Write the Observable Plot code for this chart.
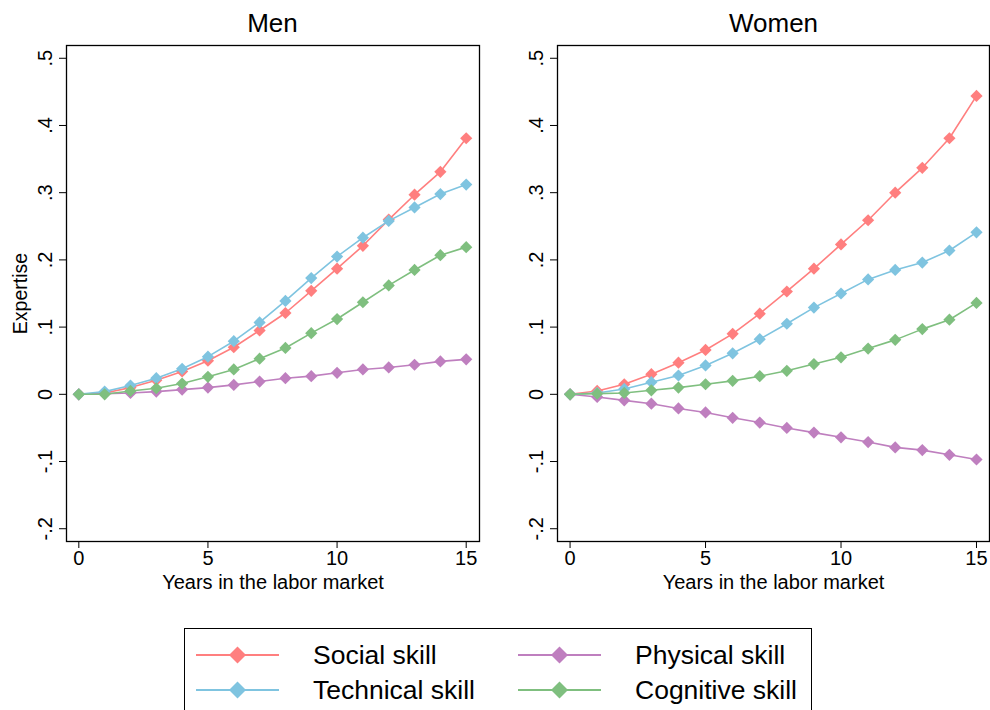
<!DOCTYPE html>
<html><head><meta charset="utf-8">
<script src="https://cdn.jsdelivr.net/npm/d3@7"></script>
<script src="https://cdn.jsdelivr.net/npm/@observablehq/plot@0.6"></script>
<style>
body{margin:0;background:#fff;font-family:"Liberation Sans",Arial,sans-serif;}
#wrap{position:relative;width:990px;height:710px;overflow:hidden;background:#fff;}
.panel{position:absolute;top:0;}
.title{position:absolute;top:8px;font-size:26px;line-height:30px;text-align:center;color:#000;}
#legend{position:absolute;left:184px;top:628px;width:628px;height:100px;border:1.3px solid #000;box-sizing:border-box;background:#fff;}
.item{position:absolute;height:30px;}
.item svg{position:absolute;left:0;top:0;}
.item span{position:absolute;white-space:nowrap;font-size:26.5px;line-height:30px;color:#000;}
</style></head><body>
<div id="wrap">
  <div id="p1" class="panel" style="left:0px"></div>
  <div id="p2" class="panel" style="left:490px"></div>
  <div class="title" style="left:66px;width:413px">Men</div>
  <div class="title" style="left:557px;width:433px">Women</div>
  <div id="legend"></div>
</div>
<script>
const years = [0,1,2,3,4,5,6,7,8,9,10,11,12,13,14,15];
const seriesNames = ["Social skill","Physical skill","Technical skill","Cognitive skill"];
const seriesColors = ["#FF7F7F","#BF7FBF","#7FC4E0","#7FBF7F"];
const xTicks = [0,5,10,15];
const yTicks = [-0.2,-0.1,0,0.1,0.2,0.3,0.4,0.5];
const panelTitles = ["Men","Women"];
const xLabel = "Years in the labor market";
const yLabel = "Expertise";

const menSocial    = [0,0.002,0.010,0.021,0.034,0.050,0.070,0.095,0.121,0.154,0.187,0.221,0.260,0.297,0.331,0.381];
const menTechnical = [0,0.004,0.013,0.024,0.038,0.056,0.079,0.107,0.139,0.173,0.205,0.233,0.258,0.278,0.298,0.312];
const menPhysical  = [0,0.001,0.002,0.004,0.007,0.010,0.014,0.019,0.024,0.027,0.032,0.037,0.040,0.044,0.049,0.052];
const menCognitive = [0,0.000,0.005,0.009,0.016,0.026,0.037,0.053,0.069,0.091,0.112,0.137,0.162,0.185,0.207,0.219];

const womenSocial    = [0,0.005,0.015,0.030,0.047,0.066,0.090,0.120,0.153,0.187,0.223,0.259,0.300,0.337,0.381,0.444];
const womenTechnical = [0,0.002,0.008,0.018,0.028,0.043,0.061,0.082,0.105,0.129,0.150,0.171,0.185,0.196,0.214,0.241];
const womenPhysical  = [0,-0.004,-0.009,-0.014,-0.021,-0.027,-0.035,-0.042,-0.050,-0.057,-0.064,-0.071,-0.079,-0.083,-0.090,-0.097];
const womenCognitive = [0,0.001,0.002,0.006,0.010,0.015,0.020,0.027,0.035,0.045,0.055,0.068,0.081,0.097,0.111,0.136];

const menSeries = [menSocial, menPhysical, menTechnical, menCognitive];
const womenSeries = [womenSocial, womenPhysical, womenTechnical, womenCognitive];

const fmtY = v => v === 0 ? "0" : d3.format(".1f")(v).replace("0.", ".").replace("−", "-");

function panel(seriesList, opts) {
  const marks = [];
  seriesList.forEach((vals, i) => {
    const data = years.map((yr, j) => ({x: yr, y: vals[j]}));
    marks.push(Plot.line(data, {x: "x", y: "y", stroke: seriesColors[i], strokeWidth: 1.6}));
    marks.push(Plot.dot(data, {x: "x", y: "y", symbol: "diamond2", r: 5.5, fill: seriesColors[i], stroke: "none"}));
  });
  marks.push(Plot.axisX({ticks: xTicks, tickSize: 7, tickFormat: () => "", label: null}));
  marks.push(Plot.axisY({ticks: yTicks, tickSize: 7, tickFormat: () => "", label: null}));
  marks.push(Plot.text(xTicks, {x: d => d, frameAnchor: "bottom", dy: 17, lineAnchor: "middle", textAnchor: "middle", text: d => String(d), fontSize: 20}));
  marks.push(Plot.text(yTicks, {y: d => d, frameAnchor: "left", dx: -21, rotate: -90, lineAnchor: "middle", textAnchor: "middle", text: fmtY, fontSize: 20}));
  marks.push(Plot.text([xLabel], {frameAnchor: "bottom", dy: 41, lineAnchor: "middle", textAnchor: "middle", text: d => d, fontSize: 20}));
  if (opts.yLabel) marks.push(Plot.text([yLabel], {frameAnchor: "left", dx: -46, rotate: -90, lineAnchor: "middle", textAnchor: "middle", text: d => d, fontSize: 19.5}));
  marks.push(Plot.frame({stroke: "black", strokeWidth: 1.3}));
  return Plot.plot({
    width: opts.width, height: 600,
    marginLeft: opts.marginLeft, marginRight: opts.marginRight, marginTop: 45, marginBottom: 59,
    x: {domain: opts.xDomain},
    y: {domain: [-0.219, 0.519]},
    style: {fontFamily: "Liberation Sans, Arial, sans-serif", fontSize: "20px", color: "black", background: "white", overflow: "visible"},
    marks
  });
}

document.getElementById("p1").appendChild(panel(menSeries, {width: 495, marginLeft: 66, marginRight: 16, xDomain: [-0.477, 15.515], yLabel: true}));
document.getElementById("p2").appendChild(panel(womenSeries, {width: 500, marginLeft: 67, marginRight: 1, xDomain: [-0.464, 15.48], yLabel: false}));

// legend
const legend = document.getElementById("legend");
const legendPos = [
  {left: 11, top: 11}, {left: 333, top: 11},
  {left: 11, top: 46}, {left: 333, top: 46}
];
seriesNames.forEach((name, i) => {
  const it = document.createElement("div");
  it.className = "item";
  it.style.left = legendPos[i].left + "px";
  it.style.top = legendPos[i].top + "px";
  it.style.width = "300px";
  const c = seriesColors[i];
  it.innerHTML = `<svg width="90" height="30"><line x1="0" y1="15" x2="83" y2="15" stroke="${c}" stroke-width="2"/><path d="M41.5,6.5 L50,15 L41.5,23.5 L33,15 Z" fill="${c}"/></svg><span style="left:117px;top:0">${name}</span>`;
  legend.appendChild(it);
});
</script>
</body></html>
